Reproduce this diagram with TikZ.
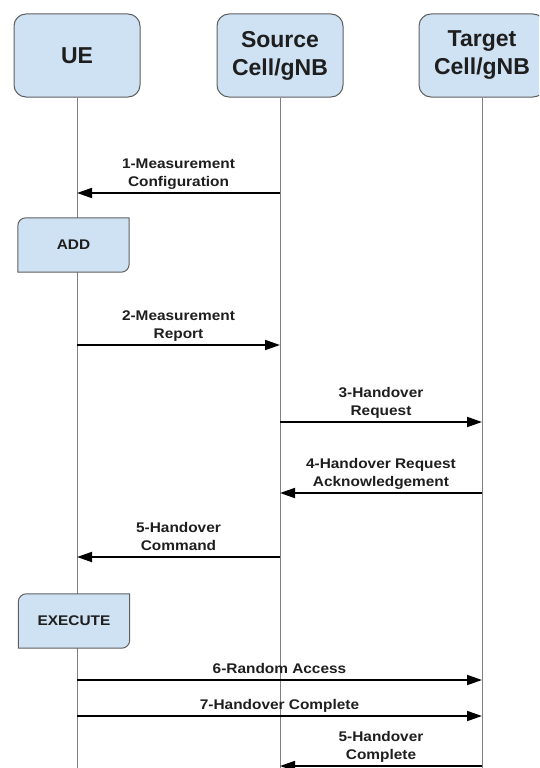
\documentclass[tikz,border=0pt]{standalone}
\usepackage{fontspec}
\setsansfont{Liberation Sans}
\newfontfamily\msgfont[FakeStretch=1.1]{Liberation Sans}
\usetikzlibrary{arrows.meta,backgrounds}
\definecolor{boxblue}{RGB}{207,226,243}
\definecolor{boxline}{RGB}{95,95,95}
\definecolor{lifegray}{RGB}{128,128,128}
\definecolor{inkdark}{RGB}{30,30,30}
\tikzset{
	party/.style={
			draw=boxline, line width=1pt, fill=boxblue, rounded corners=12pt,
			minimum width=126pt, minimum height=83pt, align=center, text=inkdark,
			font=\sffamily\bfseries\fontsize{23}{28}\selectfont},
	phase/.style={
			minimum width=111pt, minimum height=54pt, text=inkdark,
			font=\msgfont\bfseries\fontsize{14}{18}\selectfont},
	life/.style={draw=lifegray, line width=1pt},
	msg/.style={line width=1.8pt, -{Triangle[length=15pt,width=10pt]}},
	lbl/.style={
			above=0.5pt, inner sep=0pt, align=center, text=inkdark,
			font=\msgfont\bfseries\fontsize{14}{18}\selectfont,
			execute at end node=\strut}
}

\begin{document}
\begin{tikzpicture}[x=1pt,y=-1pt]
            \clip (0,0) rectangle (539,768);
            \node[party] (ue) at (77,55.5) {UE};
            \node[party] (src) at (280,55.5) {Source\\Cell/gNB};
            \node[party] (tgt) at (482,55.5) {Target\\Cell/gNB};
            \node[phase] (add) at (73.5,245) {ADD};
            \node[phase] (exec) at (74,621) {EXECUTE};
            \coordinate (bottom) at (0,768);
            \begin{scope}[on background layer]
                \foreach \p in {ue,src,tgt}
                    \draw[life] (\p.south) -- (\p |- bottom);
                \foreach \p in {add,exec}
                    \draw[draw=boxline, fill=boxblue, line width=1pt] (\p.south west) -- ([yshift=-8pt]\p.north west) arc[start angle=180, end angle=90, radius=8pt] -- (\p.north east) -- ([yshift=8pt]\p.south east) arc[start angle=0, end angle=-90, radius=8pt] -- cycle;
            \end{scope}
            \foreach \from/\to/\y/\txt in {
                    src/ue/193/{1-Measurement\\Configuration},
                    ue/src/345/{2-Measurement\\Report},
                    src/tgt/422/{3-Handover\\Request},
                    tgt/src/493/{4-Handover Request\\Acknowledgement},
                    src/ue/557/{5-Handover\\Command},
                    ue/tgt/680/{6-Random Access},
                    ue/tgt/716/{7-Handover Complete},
                    tgt/src/766/{5-Handover\\Complete}} {
                \coordinate (m) at (0,\y);
                \draw[msg] (\from |- m) -- node[lbl] {\txt} (\to |- m);
            }
        \end{tikzpicture}
\end{document}
